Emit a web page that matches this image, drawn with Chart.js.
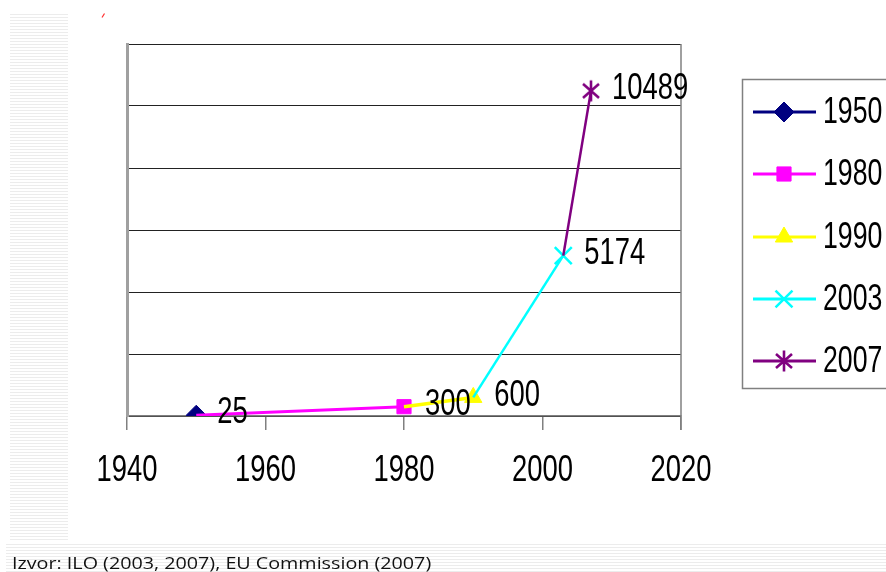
<!DOCTYPE html>
<html>
<head>
<meta charset="utf-8">
<script src="https://cdn.jsdelivr.net/npm/chart.js@4/dist/chart.umd.min.js"></script>
<style>
  html, body { margin: 0; padding: 0; background: #fff; }
  body { width: 886px; height: 572px; position: relative; overflow: hidden; }
  .stripes-left {
    position: absolute; left: 10px; top: 14px; width: 58px; height: 528px;
    background: repeating-linear-gradient(#ececec 0 1px, #fff 1px 3px);
  }
  .stripes-bottom {
    position: absolute; left: 6px; top: 544px; width: 880px; height: 28px;
    background: repeating-linear-gradient(#ececec 0 1px, #fff 1px 3px);
  }
  #chart { position: absolute; left: 0; top: 0; }
  .source {
    position: absolute; left: 12px; top: 551px;
    font-family: 'Open Sans', sans-serif; font-size: 17px; color: #111;
    white-space: nowrap; transform: scaleX(1.16); transform-origin: left top;
  }
</style>
</head>
<body>
<div class="stripes-left"></div>
<div class="stripes-bottom"></div>
<canvas id="chart" width="886" height="572"></canvas>
<div class="source">Izvor: ILO (2003, 2007), EU Commission (2007)</div>
<script>
// ── Data ─────────────────────────────────────────────────────────────────────
const years = [1950, 1980, 1990, 2003, 2007];
const values = [25, 300, 600, 5174, 10489];
const seriesLabels = ['1950', '1980', '1990', '2003', '2007'];
const colors = ['#000080', '#FF00FF', '#FFFF00', '#00FFFF', '#800080'];
const pointStyles = ['rectRot', 'rect', 'triangle', 'crossRot', 'asterisk'];
const xTicks = [1940, 1960, 1980, 2000, 2020];

const FONT = "'Liberation Sans', Arial, sans-serif";
const NARROW = 0.74;   // the original uses a condensed face
const lineWidths = [3, 3, 3.5, 2.5, 2.5];
const pointSizes = [10, 10, 10, 12, 10];

// six-armed marker (X plus vertical bar) as an image point style
function makeAsterisk(color) {
  const c = document.createElement('canvas');
  c.width = 22; c.height = 24;
  const g = c.getContext('2d');
  g.strokeStyle = color;
  g.lineWidth = 2.6;
  g.beginPath();
  g.moveTo(3, 5); g.lineTo(19, 19);
  g.moveTo(19, 5); g.lineTo(3, 19);
  g.moveTo(11, 1.5); g.lineTo(11, 22.5);
  g.stroke();
  return c;
}
const styleFor = i => pointStyles[i] === 'asterisk' ? makeAsterisk(colors[i]) : pointStyles[i];

// each series is the segment from the previous year up to its own year
const datasets = years.map((yr, i) => {
  const data = i === 0
    ? [{ x: yr, y: values[i] }]
    : [{ x: years[i - 1], y: values[i - 1] }, { x: yr, y: values[i] }];
  return {
    label: seriesLabels[i],
    data,
    borderColor: colors[i],
    backgroundColor: colors[i],
    borderWidth: lineWidths[i],
    pointStyle: styleFor(i),
    pointRadius: i === 0 ? [pointSizes[i]] : [0, pointSizes[i]],
    pointBorderWidth: pointStyles[i] === 'crossRot' ? 2.5 : 1,
    pointBorderColor: colors[i],
    pointBackgroundColor: colors[i],
    tension: 0,
    order: 5 - i
  };
});

function narrowText(ctx, text, x, y, size, align) {
  ctx.save();
  ctx.font = `${size}px ${FONT}`;
  ctx.textBaseline = 'middle';
  const w = ctx.measureText(text).width * NARROW;
  let left = x;
  if (align === 'center') left = x - w / 2;
  ctx.translate(left, y);
  ctx.scale(NARROW, 1);
  ctx.textAlign = 'left';
  ctx.fillText(text, 0, 0);
  ctx.restore();
}

// ── Plugins ──────────────────────────────────────────────────────────────────
const decorPlugin = {
  id: 'decor',
  beforeDatasetsDraw(chart) {
    const { ctx, chartArea } = chart;
    ctx.save();
    ctx.strokeStyle = '#808080';
    ctx.lineWidth = 1.5;
    ctx.beginPath();
    ctx.moveTo(chartArea.right, chartArea.top);
    ctx.lineTo(chartArea.right, chartArea.bottom + 14);
    ctx.stroke();
    // small red mark top-left
    ctx.strokeStyle = '#ff3030';
    ctx.lineWidth = 1.2;
    ctx.beginPath();
    ctx.moveTo(102, 17.5);
    ctx.lineTo(104.5, 13.5);
    ctx.stroke();
    ctx.restore();
  },
  afterDatasetsDraw(chart) {
    const { ctx } = chart;
    ctx.fillStyle = '#000';
    chart.data.datasets.forEach((ds, i) => {
      const meta = chart.getDatasetMeta(i);
      const pt = meta.data[meta.data.length - 1];
      narrowText(ctx, String(values[i]), pt.x + 21, pt.y - 2, 37, 'left');
    });
    // x tick labels
    const xs = chart.scales.x;
    xs.ticks.forEach(t => {
      ctx.fillStyle = '#000';
      narrowText(ctx, String(t.value), xs.getPixelForValue(t.value), 471, 37, 'center');
    });
  },
  afterDraw(chart) {
    const { ctx } = chart;
    ctx.save();
    // legend box
    ctx.strokeStyle = '#808080';
    ctx.lineWidth = 1.5;
    ctx.strokeRect(742.5, 79.5, 200, 309);
    const rows = [112, 174, 237, 299, 361];
    chart.data.datasets.forEach((ds, i) => {
      const y = rows[i];
      ctx.strokeStyle = colors[i];
      ctx.lineWidth = 3;
      ctx.beginPath();
      ctx.moveTo(753, y);
      ctx.lineTo(816, y);
      ctx.stroke();
      ctx.fillStyle = colors[i];
      ctx.strokeStyle = colors[i];
      ctx.lineWidth = ds.pointBorderWidth;
      Chart.helpers.drawPoint(ctx, {
        pointStyle: ds.pointStyle,
        radius: pointSizes[i],
        rotation: 0,
        borderWidth: ds.pointBorderWidth
      }, 784, y);
      ctx.fillStyle = '#000';
      narrowText(ctx, seriesLabels[i], 823, y + 1, 36, 'left');
    });
    ctx.restore();
  }
};

// ── Chart ────────────────────────────────────────────────────────────────────
new Chart(document.getElementById('chart').getContext('2d'), {
  type: 'line',
  data: { datasets },
  options: {
    responsive: false,
    animation: false,
    layout: { padding: { left: 127, right: 205, top: 44, bottom: 0 } },
    plugins: {
      legend: { display: false },
      tooltip: { enabled: false }
    },
    scales: {
      x: {
        type: 'linear',
        min: xTicks[0],
        max: xTicks[xTicks.length - 1],
        afterBuildTicks: scale => { scale.ticks = xTicks.map(v => ({ value: v })); },
        afterFit: scale => { scale.height = 156; },
        ticks: { display: false },
        grid: {
          drawOnChartArea: false,
          drawTicks: true,
          tickLength: 14,
          color: '#808080',
          lineWidth: 1.5
        },
        border: { color: '#808080', width: 1.5 }
      },
      y: {
        min: 0,
        max: 12000,
        ticks: { display: false, stepSize: 2000 },
        afterFit: scale => { scale.width = 0; },
        grid: { color: '#222', lineWidth: 1, drawTicks: false },
        border: { color: '#a0a0a0', width: 3 }
      }
    }
  },
  plugins: [decorPlugin]
});
</script>
</body>
</html>
